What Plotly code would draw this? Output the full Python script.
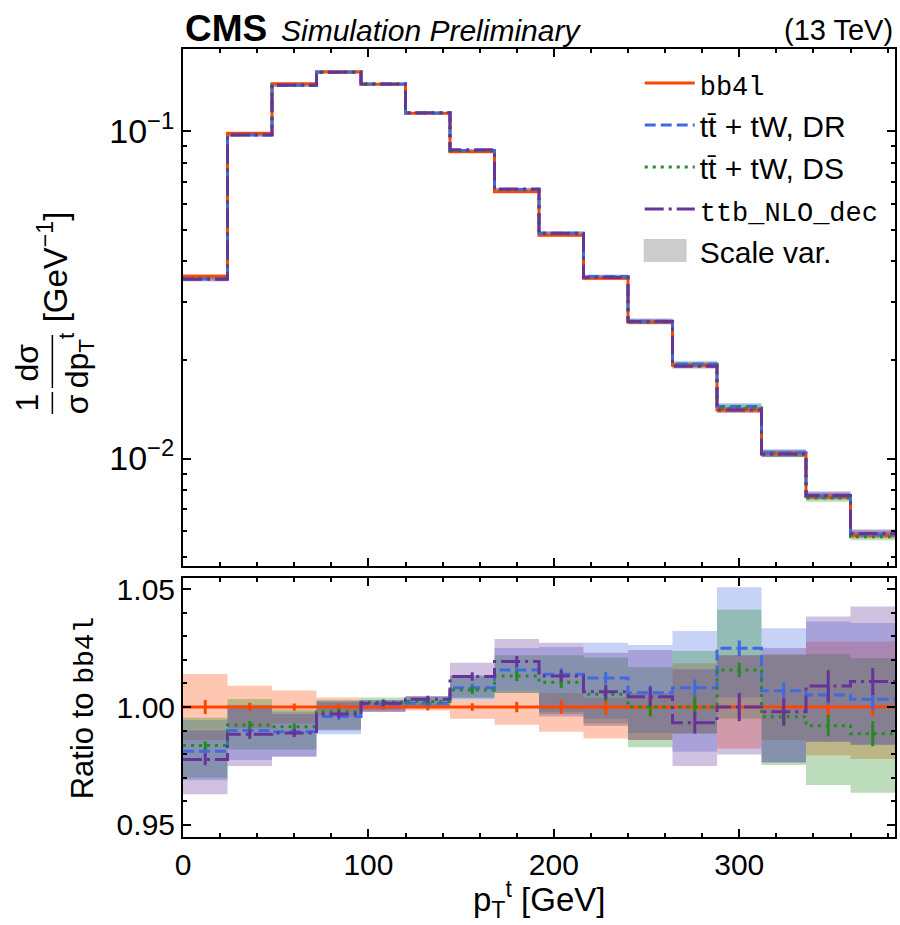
import plotly.graph_objects as go

# ---------------------------------------------------------------- data
bin_edges = [0, 24, 48, 72, 96, 120, 144, 168, 192, 216, 240, 264, 288, 312, 336, 360, 384]

# normalised top-quark pT distribution of the bb4l reference sample [1/GeV]
xsec_bb4l = [0.03605, 0.0984, 0.1395, 0.1517, 0.1390, 0.1133, 0.0865, 0.0653,
             0.0481, 0.0355, 0.0261, 0.01927, 0.01406, 0.01035, 0.00764, 0.00584]

# ratios to bb4l
ratio_bb4l = [1.0] * 16
ratio_dr = [0.9813, 0.9900, 0.9895, 0.9960, 1.0013, 1.0016, 1.0082, 1.0157,
            1.0139, 1.0123, 1.0061, 1.0082, 1.0249, 1.0069, 1.0051, 1.0033]
ratio_ds = [0.9837, 0.9924, 0.9916, 0.9980, 1.0020, 1.0023, 1.0072, 1.0132,
            1.0105, 1.0054, 1.0000, 1.0000, 1.0157, 0.9959, 0.9921, 0.9887]
ratio_ttb = [0.9778, 0.9885, 0.9890, 0.9970, 1.0016, 1.0033, 1.0129, 1.0193,
             1.0132, 1.0065, 1.0044, 0.9933, 1.0000, 0.9980, 1.0089, 1.0108]

# statistical uncertainties (relative)
stat_bb4l = [0.0030, 0.0018, 0.0015, 0.0015, 0.0012, 0.0014, 0.0016, 0.0022,
             0.0028, 0.0035, 0.0035, 0.0040, 0.0045, 0.0040, 0.0040, 0.0040]
stat_dr = [0.0020, 0.0018, 0.0016, 0.0015, 0.0013, 0.0014, 0.0017, 0.0022,
           0.0025, 0.0025, 0.0030, 0.0035, 0.0033, 0.0035, 0.0040, 0.0045]
stat_ds = [0.0018, 0.0017, 0.0015, 0.0015, 0.0013, 0.0014, 0.0017, 0.0022,
           0.0025, 0.0030, 0.0040, 0.0045, 0.0030, 0.0040, 0.0045, 0.0053]
stat_ttb = [0.0025, 0.0020, 0.0017, 0.0016, 0.0013, 0.0015, 0.0018, 0.0023,
            0.0025, 0.0030, 0.0040, 0.0045, 0.0060, 0.0057, 0.0067, 0.0057]

# scale-variation envelopes, as ratios to bb4l (low, high)
scale_lo_bb4l = [0.9860, 0.9910, 0.9930, 0.9960, 0.9980, 0.9985, 0.9950, 0.9925,
                 0.9895, 0.9867, 0.9860, 0.9888, 0.9824, 0.9860, 0.9796, 0.9780]
scale_hi_bb4l = [1.0140, 1.0090, 1.0070, 1.0040, 1.0020, 1.0015, 1.0030, 1.0070,
                 1.0060, 1.0040, 1.0060, 1.0186, 1.0220, 1.0220, 1.0278, 1.0278]
scale_lo_dr = [0.9690, 0.9775, 0.9790, 0.9885, 0.9980, 0.9995, 1.0030, 1.0060,
               0.9980, 0.9950, 0.9890, 0.9810, 1.0040, 0.9765, 0.9853, 0.9840]
scale_hi_dr = [0.9945, 1.0010, 0.9980, 1.0020, 1.0030, 1.0045, 1.0135, 1.0250,
               1.0255, 1.0273, 1.0263, 1.0322, 1.0508, 1.0334, 1.0363, 1.0356]
scale_lo_ds = [0.9700, 0.9820, 0.9820, 0.9905, 0.9990, 1.0000, 1.0035, 1.0060,
               0.9970, 0.9930, 0.9830, 0.9888, 0.9950, 0.9754, 0.9669, 0.9637]
scale_hi_ds = [0.9955, 1.0034, 0.9990, 1.0030, 1.0040, 1.0045, 1.0130, 1.0220,
               1.0220, 1.0210, 1.0170, 1.0238, 1.0412, 1.0224, 1.0224, 1.0207]
scale_lo_ttb = [0.9630, 0.9750, 0.9789, 0.9900, 0.9980, 1.0000, 1.0040, 1.0070,
                0.9960, 0.9920, 0.9860, 0.9750, 0.9799, 0.9765, 0.9853, 0.9840]
scale_hi_ttb = [0.9900, 1.0000, 0.9970, 1.0025, 1.0030, 1.0047, 1.0188, 1.0288,
                1.0273, 1.0230, 1.0242, 1.0160, 1.0220, 1.0250, 1.0384, 1.0426]

# ---------------------------------------------------------------- style
FONT = "Liberation Sans"
MONO = "Liberation Mono"


def mono(s, size):
    return f'<span style="font-family:{MONO};font-size:{size}px">{s}</span>'


samples = [
    dict(name=mono("bb4l", 27), ratio=ratio_bb4l, stat=stat_bb4l,
         lo=scale_lo_bb4l, hi=scale_hi_bb4l, color="#ff4500",
         band="rgba(255,69,0,0.3)", dash="solid"),
    dict(name="tt\u0304 + tW, DR", ratio=ratio_dr, stat=stat_dr,
         lo=scale_lo_dr, hi=scale_hi_dr, color="#4169e1",
         band="rgba(65,105,225,0.3)", dash="11px,5px"),
    dict(name="tt\u0304 + tW, DS", ratio=ratio_ds, stat=stat_ds,
         lo=scale_lo_ds, hi=scale_hi_ds, color="#228b22",
         band="rgba(34,139,34,0.3)", dash="3px,5px"),
    dict(name=mono("ttb_NLO_dec", 27), ratio=ratio_ttb, stat=stat_ttb,
         lo=scale_lo_ttb, hi=scale_hi_ttb, color="#663399",
         band="rgba(102,51,153,0.3)", dash="19px,5px,3px,5px"),
]

centers = [(a + b) / 2 for a, b in zip(bin_edges[:-1], bin_edges[1:])]


def step(v):
    return list(v) + [v[-1]]


fig = go.Figure()
LW = 3

# scale-variation bands (top panel and ratio panel)
for s in samples:
    top_lo = [x * r for x, r in zip(xsec_bb4l, s["lo"])]
    top_hi = [x * r for x, r in zip(xsec_bb4l, s["hi"])]
    for ax, lo, hi in (("", top_lo, top_hi), ("2", s["lo"], s["hi"])):
        fig.add_trace(go.Scatter(x=bin_edges, y=step(lo), xaxis="x" + ax, yaxis="y" + ax,
                                 mode="lines", line=dict(width=0, shape="hv"),
                                 showlegend=False, hoverinfo="skip"))
        fig.add_trace(go.Scatter(x=bin_edges, y=step(hi), xaxis="x" + ax, yaxis="y" + ax,
                                 mode="lines", line=dict(width=0, shape="hv"),
                                 fill="tonexty", fillcolor=s["band"],
                                 showlegend=False, hoverinfo="skip"))

# step histograms
for i, s in enumerate(samples):
    vals = [x * r for x, r in zip(xsec_bb4l, s["ratio"])]
    fig.add_trace(go.Scatter(x=bin_edges, y=step(vals), xaxis="x", yaxis="y",
                             mode="lines", name=s["name"],
                             line=dict(color=s["color"], width=LW, dash=s["dash"], shape="hv")))
    fig.add_trace(go.Scatter(x=bin_edges, y=step(s["ratio"]), xaxis="x2", yaxis="y2",
                             mode="lines", showlegend=False,
                             line=dict(color=s["color"], width=LW, dash=s["dash"], shape="hv")))
    fig.add_trace(go.Scatter(x=centers, y=s["ratio"], xaxis="x2", yaxis="y2",
                             mode="markers", showlegend=False,
                             marker=dict(size=1, color=s["color"]),
                             error_y=dict(type="data", array=s["stat"], color=s["color"],
                                          thickness=3, width=0)))

# legend entry for the scale variations; its swatch is drawn as a box below
fig.add_trace(go.Scatter(x=[None], y=[None], xaxis="x", yaxis="y", mode="lines",
                         line=dict(width=2, color="rgba(0,0,0,0)"),
                         name="Scale var."))

# ---------------------------------------------------------------- layout
W, H = 900, 925
L, R, T, B = 183, 3, 49, 88
ph = H - T - B
pw = W - L - R


def px_x(x):
    return (x - L) / pw


def px_y(y):
    return (H - B - y) / ph


top_dom = [px_y(566), 1.0]
rat_dom = [0.0, px_y(578)]

axis_common = dict(showline=True, linecolor="black", linewidth=2, mirror="ticks",
                   ticks="inside", ticklen=8, tickwidth=1.5, tickcolor="black",
                   showgrid=False, zeroline=False)

dec_minor = [k * 10 ** e for e in (-3, -2, -1) for k in range(2, 10)]

fig.update_layout(
    width=W, height=H,
    margin=dict(l=L, r=R, t=T, b=B),
    paper_bgcolor="white", plot_bgcolor="white",
    font=dict(family=FONT, size=30, color="black"),
    xaxis=dict(**axis_common, domain=[0, 1], range=[0, 384], anchor="y",
               showticklabels=False, dtick=100, tick0=0,
               minor=dict(dtick=20, tick0=0, ticks="inside", ticklen=4, tickwidth=1.5,
                          tickcolor="black")),
    yaxis=dict(**axis_common, domain=top_dom, type="log", anchor="x",
               range=[-2.328, -0.7495],
               tickmode="array", tickvals=[0.01, 0.1],
               ticktext=["10<sup>\u22122</sup>", "10<sup>\u22121</sup>"],
               tickfont=dict(family=FONT, size=34, color="black"),
               ticklabelstandoff=0,
               minor=dict(tickmode="array", tickvals=dec_minor, ticks="inside",
                          ticklen=4, tickwidth=1.5, tickcolor="black")),
    xaxis2=dict(**axis_common, domain=[0, 1], range=[0, 384], anchor="y2",
                dtick=100, tick0=0, ticklabelstandoff=0,
                tickfont=dict(family=FONT, size=30, color="black"),
                minor=dict(dtick=20, tick0=0, ticks="inside", ticklen=4, tickwidth=1.5,
                           tickcolor="black")),
    yaxis2=dict(**axis_common, domain=rat_dom, anchor="x2",
                range=[0.9449, 1.0547],
                tickmode="array", tickvals=[0.95, 1.0, 1.05], tickformat=".2f",
                tickfont=dict(family=FONT, size=30, color="black"),
                ticklabelstandoff=0,
                minor=dict(dtick=0.01, tick0=0.95, ticks="inside", ticklen=4,
                           tickwidth=1.5, tickcolor="black")),
    legend=dict(x=px_x(641), y=px_y(57), xanchor="left", yanchor="top",
                traceorder="normal",
                bgcolor="rgba(0,0,0,0)", itemwidth=50, tracegroupgap=0,
                font=dict(family=FONT, size=30, color="black")),
    showlegend=True,
)

annotations = [
    dict(text="<b>CMS</b>", x=0, y=px_y(28), xanchor="left", yanchor="middle",
         font=dict(family=FONT, size=37)),
    dict(text="<i>Simulation Preliminary</i>", x=px_x(279), y=px_y(30), xanchor="left",
         yanchor="middle", font=dict(family=FONT, size=30)),
    dict(text="(13 TeV)", x=1, y=px_y(30), xanchor="right", yanchor="middle",
         font=dict(family=FONT, size=29)),
    dict(text="p<sub>T</sub><sup>t</sup> [GeV]", x=0.5, y=px_y(899), xanchor="center",
         yanchor="middle", font=dict(family=FONT, size=33)),
    dict(text="Ratio to " + mono("bb4l", 28), x=px_x(83), y=px_y(708), xanchor="center",
         yanchor="middle", textangle=-90, font=dict(family=FONT, size=31)),
    dict(text="[GeV<sup>\u22121</sup>]", x=px_x(53), y=px_y(267), xanchor="center",
         yanchor="middle", textangle=-90, font=dict(family=FONT, size=33)),
    dict(text="1", x=px_x(27), y=px_y(402), xanchor="center", yanchor="middle",
         textangle=-90, font=dict(family=FONT, size=32)),
    dict(text="d\u03c3", x=px_x(27), y=px_y(362), xanchor="center", yanchor="middle",
         textangle=-90, font=dict(family=FONT, size=32)),
    dict(text="\u03c3", x=px_x(77), y=px_y(404), xanchor="center", yanchor="middle",
         textangle=-90, font=dict(family=FONT, size=32)),
    dict(text="dp<sub>T</sub><sup>t</sup>", x=px_x(76), y=px_y(360), xanchor="center",
         yanchor="middle", textangle=-90, font=dict(family=FONT, size=32)),
]
for a in annotations:
    a.update(xref="paper", yref="paper", showarrow=False)
fig.update_layout(annotations=annotations)

# fraction bars of the y-axis title
for y0, y1 in ((392, 414), (335, 388)):
    fig.add_shape(type="line", xref="paper", yref="paper",
                  x0=px_x(52), x1=px_x(52), y0=px_y(y0), y1=px_y(y1),
                  line=dict(color="black", width=1.5))

# grey swatch of the "Scale var." legend entry
fig.add_shape(type="rect", xref="paper", yref="paper",
              x0=px_x(645), x1=px_x(688), y0=px_y(262), y1=px_y(239),
              fillcolor="#cccccc", line=dict(width=0))

fig.write_html("out.html")
